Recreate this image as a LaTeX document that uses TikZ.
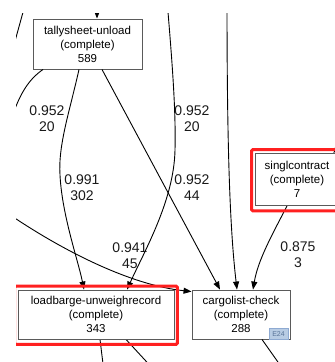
\documentclass[tikz,border=0pt]{standalone}
\usepackage{fontspec}
\setmainfont{Liberation Sans}
\usetikzlibrary{arrows.meta}
\definecolor{boxline}{HTML}{5A5A5A}
\definecolor{hl}{HTML}{FF2020}
\definecolor{badgefill}{HTML}{B8CCE4}
\definecolor{badgeline}{HTML}{8EAAD2}
\definecolor{badgetext}{HTML}{5A7599}
\begin{document}
\begin{tikzpicture}[x=1pt,y=-1pt,
 box/.style={draw=boxline, line width=0.9pt, fill=white, inner sep=0pt, align=center,
   font=\fontsize{11.5}{14}\selectfont, text=black},
 lbl/.style={align=center, font=\fontsize{14}{16}\selectfont, inner sep=0pt, text=black!90},
 edge/.style={draw=black, line width=0.9pt},
 arr/.style={edge, -{Triangle[length=8pt,width=6pt]}},
 hilite/.style={draw=hl, line width=3pt, rounded corners=1.5pt}]
\useasboundingbox (0,0) rectangle (335,362);
\clip (16,13) rectangle (335,362);

% nodes (placed first so anchors exist)
\node[box, minimum width=109pt, minimum height=50pt] (ts) at (87.5,44) {tallysheet-unload\\(complete)\\589};
\node[box, minimum width=84pt, minimum height=52pt] (sc) at (297,179.5) {singlcontract\\(complete)\\7};
\node[box, minimum width=156pt, minimum height=49pt] (lb) at (96,314.5) {loadbarge-unweighrecord\\(complete)\\343};
\node[box, minimum width=98pt, minimum height=49pt] (cl) at (241,314.5) {cargolist-check\\(complete)\\288};

% outside coordinates
\coordinate (tlA) at (25,5);
\coordinate (tlB) at (12,52);
\coordinate (tsIn) at (97,-10);
\coordinate (aTop) at (167,0);
\coordinate (bTop) at (227,0);
\coordinate (lIn) at (0,208);
\coordinate (lOut) at (8,130);
\coordinate (scIn) at (352,128);
\coordinate (lbo1) at (104,372);
\coordinate (lbo2) at (156,372);
\coordinate (clo) at (285,372);

% connectors
\draw[edge] (tlA) -- (tlB);
\draw[arr] (tsIn) -- ([xshift=9.5pt]ts.north);
\draw[edge] ([xshift=-44.5pt]ts.south) .. controls (28,80) and (18,95) .. (lOut);
\draw[arr] ([xshift=-8.5pt]ts.south) .. controls (70,110) and (58,145) .. (60,175)
   .. controls (62,215) and (78,260) .. ([xshift=-12pt]lb.north);
\draw[arr] ([xshift=14.5pt]ts.south) -- ([xshift=-21pt]cl.north);
\draw[arr] (aTop) .. controls (172,60) and (176,110) .. (175,150)
   .. controls (174,200) and (145,250) .. ([xshift=31pt]lb.north);
\draw[arr] (bTop) .. controls (227,150) and (230,230) .. ([xshift=-4pt]cl.north);
\draw[arr] (lIn) .. controls (60,250) and (130,285) .. ([yshift=-2pt]cl.north west);
\draw[arr] ([xshift=-10pt]sc.south) .. controls (272,235) and (258,260) .. ([xshift=12pt]cl.north);
\draw[arr] (scIn) -- ([xshift=-6pt]sc.north east);
\draw[edge] ([xshift=4pt]lb.south) -- (lbo1);
\draw[edge] ([xshift=30pt]lb.south) -- (lbo2);
\draw[edge] ([xshift=21pt]cl.south) -- (clo);

% highlights
\draw[hilite] ([xshift=-3pt,yshift=3.5pt]lb.north west) rectangle ([xshift=3pt,yshift=-5pt]lb.south east);
\draw[hilite] ([xshift=-3pt,yshift=3.5pt]sc.north west) rectangle ([xshift=3pt,yshift=-5pt]sc.south east);

% redraw boxes on top
\node[box, minimum width=84pt, minimum height=52pt] at (sc) {singlcontract\\(complete)\\7};
\node[box, minimum width=156pt, minimum height=49pt] at (lb) {loadbarge-unweighrecord\\(complete)\\343};
\node[draw=badgeline, fill=badgefill, text=badgetext, font=\fontsize{7}{8}\selectfont,
  inner sep=0pt, minimum width=19pt, minimum height=11pt] (e24) at (278.5,334) {E24};

% edge labels
\node[lbl] (l1) at (47,119) {0.952\\20};
\node[lbl] (l2) at (192,119) {0.952\\20};
\node[lbl] (l3) at (82,188) {0.991\\302};
\node[lbl] (l4) at (192,188) {0.952\\44};
\node[lbl] (l5) at (130,256) {0.941\\45};
\node[lbl] (l6) at (298,255) {0.875\\3};
\end{tikzpicture}
\end{document}
